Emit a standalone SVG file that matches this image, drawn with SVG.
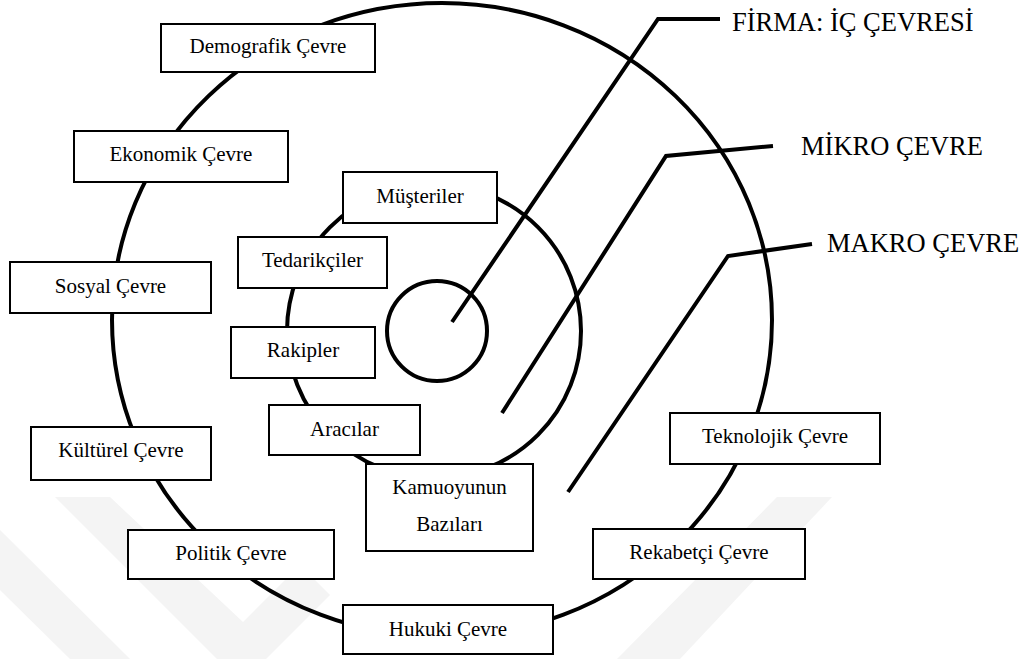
<svg xmlns="http://www.w3.org/2000/svg" width="1030" height="659" viewBox="0 0 1030 659">
<style>
.ring{fill:none;stroke:#000;stroke-width:4}
.lead{fill:none;stroke:#000;stroke-width:4;stroke-linejoin:miter}
.box{fill:#fff;stroke:#000;stroke-width:2}
.t{font-size:21px;fill:#000;text-anchor:middle}
.big{font-size:26.5px;fill:#000}
.wm{fill:#f4f4f4}
</style>
<rect width="1030" height="659" fill="#fff"/>
<g id="watermark">
<polygon class="wm" points="55,497 110,497 243,622 300,565 330,595 243,682 217,659 217,659"/>
<polygon class="wm" points="0,530 0,590 70,659 130,659"/>
<polygon class="wm" points="777,497 832,497 680,659 617,659"/>
</g>
<g id="rings">
<ellipse id="makro-ring" class="ring" cx="442" cy="320" rx="330" ry="317"/>
<circle id="mikro-ring" class="ring" cx="434" cy="331" r="147"/>
<circle id="firma-ring" class="ring" cx="437" cy="331" r="50"/>
</g>
<g id="connectors">
<polyline class="lead" points="452,322 658,19 720,19"/>
<polyline class="lead" points="502,413 666,156 773,146"/>
<polyline class="lead" points="568,492 728,256 812,244"/>
</g>
<g font-family="Liberation Serif, Times New Roman, DejaVu Serif, serif">
<g id="label-firma"><text class="big" x="732" y="31">FİRMA: İÇ ÇEVRESİ</text></g>
<g id="label-mikro"><text class="big" x="801" y="155">MİKRO ÇEVRE</text></g>
<g id="label-makro"><text class="big" x="827" y="252">MAKRO ÇEVRE</text></g>
<g id="demografik"><rect class="box" x="161" y="24" width="214" height="48"/><text class="t" x="268" y="53">Demografik Çevre</text></g>
<g id="ekonomik"><rect class="box" x="74" y="131" width="214" height="51"/><text class="t" x="181" y="161">Ekonomik Çevre</text></g>
<g id="sosyal"><rect class="box" x="10" y="262" width="201" height="51"/><text class="t" x="110.5" y="293">Sosyal Çevre</text></g>
<g id="kulturel"><rect class="box" x="31" y="427" width="180" height="53"/><text class="t" x="121" y="457">Kültürel Çevre</text></g>
<g id="politik"><rect class="box" x="128" y="530" width="206" height="49"/><text class="t" x="231" y="560">Politik Çevre</text></g>
<g id="hukuki"><rect class="box" x="343" y="605" width="210" height="49"/><text class="t" x="448" y="636">Hukuki Çevre</text></g>
<g id="rekabetci"><rect class="box" x="593" y="529" width="212" height="50"/><text class="t" x="699" y="559">Rekabetçi Çevre</text></g>
<g id="teknolojik"><rect class="box" x="670" y="413" width="210" height="51"/><text class="t" x="775" y="443">Teknolojik Çevre</text></g>
<g id="musteriler"><rect class="box" x="343" y="172" width="154" height="51"/><text class="t" x="420" y="203">Müşteriler</text></g>
<g id="tedarikciler"><rect class="box" x="238" y="237" width="149" height="51"/><text class="t" x="312.5" y="267">Tedarikçiler</text></g>
<g id="rakipler"><rect class="box" x="231" y="327" width="144" height="51"/><text class="t" x="303" y="357">Rakipler</text></g>
<g id="aracilar"><rect class="box" x="269" y="405" width="151" height="50"/><text class="t" x="344.5" y="436">Aracılar</text></g>
<g id="kamuoyu"><rect class="box" x="366" y="464" width="167" height="87"/><text class="t" x="449.5" y="494">Kamuoyunun</text><text class="t" x="449.5" y="531">Bazıları</text></g>
</g>
</svg>
